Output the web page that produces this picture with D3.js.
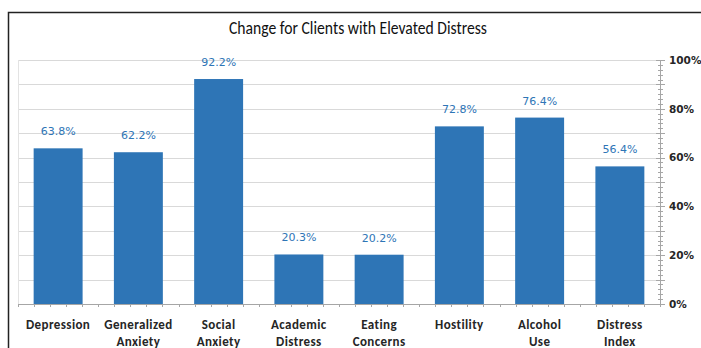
<!DOCTYPE html>
<html>
<head>
<meta charset="utf-8">
<script src="https://cdnjs.cloudflare.com/ajax/libs/d3/7.8.5/d3.min.js"></script>
<style>
  html, body { margin: 0; padding: 0; background: #fff; }
  svg { display: block; }
</style>
</head>
<body>
<svg id="chart" width="701" height="348"></svg>
<script>
// Share of clients with elevated distress who showed change, by scale
const categories = [
  ["Depression"],
  ["Generalized", "Anxiety"],
  ["Social", "Anxiety"],
  ["Academic", "Distress"],
  ["Eating", "Concerns"],
  ["Hostility"],
  ["Alcohol", "Use"],
  ["Distress", "Index"]
];
const values = [63.8, 62.2, 92.2, 20.3, 20.2, 72.8, 76.4, 56.4];
const yTicks = [0, 20, 40, 60, 80, 100];
const titleText = "Change for Clients with Elevated Distress";

const svg = d3.select("#chart");
const W = 701, H = 348;
const plot = { left: 18, right: 660, top: 60, bottom: 304 };
const barColor = "#2E75B6";
const labelColor = "#2E75B6";

// Outer chart frame
svg.append("rect")
  .attr("x", 8.5).attr("y", 12.5)
  .attr("width", W + 10).attr("height", H + 10)
  .attr("fill", "none").attr("stroke", "#222").attr("stroke-width", 1.5);

// Title
svg.append("text")
  .attr("x", 358).attr("y", 34)
  .attr("text-anchor", "middle")
  .attr("font-family", "Carlito, 'Open Sans', 'Liberation Sans', sans-serif")
  .attr("font-size", 18.5)
  .attr("fill", "#111")
  .attr("textLength", 258)
  .attr("lengthAdjust", "spacingAndGlyphs")
  .text(titleText);

const keys = categories.map(c => c.join(" "));
const x = d3.scaleBand().domain(keys).range([plot.left, plot.right]).paddingInner(0.39).paddingOuter(0.195);
const y = d3.scaleLinear().domain([0, 100]).range([plot.bottom, plot.top]);

// Horizontal gridlines every 10%
svg.append("g")
  .selectAll("line")
  .data(d3.range(10, 101, 10))
  .join("line")
  .attr("x1", plot.left).attr("x2", plot.right)
  .attr("y1", d => Math.round(y(d)) + 0.5).attr("y2", d => Math.round(y(d)) + 0.5)
  .attr("stroke", "#d9d9d9").attr("stroke-width", 1);

// Left plot edge
svg.append("line")
  .attr("x1", plot.left + 0.5).attr("x2", plot.left + 0.5)
  .attr("y1", plot.top).attr("y2", plot.bottom)
  .attr("stroke", "#e3e3e3");

// Bars
svg.append("g")
  .selectAll("rect")
  .data(values)
  .join("rect")
  .attr("x", (d, i) => x(keys[i]))
  .attr("width", x.bandwidth())
  .attr("y", d => y(d))
  .attr("height", d => y(0) - y(d))
  .attr("fill", barColor);

// Value labels above bars
svg.append("g")
  .selectAll("text")
  .data(values)
  .join("text")
  .attr("x", (d, i) => x(keys[i]) + x.bandwidth() / 2)
  .attr("y", d => y(d) - 13)
  .attr("text-anchor", "middle")
  .attr("font-family", "'DejaVu Sans', Verdana, sans-serif")
  .attr("font-size", 11)
  .attr("fill", labelColor)
  .text(d => d.toFixed(1) + "%");

// Bottom axis line with minor ticks
const bottomAxis = svg.append("g");
bottomAxis.append("line")
  .attr("x1", plot.left).attr("x2", plot.right)
  .attr("y1", plot.bottom + 0.5).attr("y2", plot.bottom + 0.5)
  .attr("stroke", "#a6a6a6");
const step = x.step();
const minorX = d3.range(0, keys.length * 5 + 1).map(i => plot.left + i * step / 5);
bottomAxis.selectAll("line.tick")
  .data(minorX)
  .join("line")
  .attr("class", "tick")
  .attr("x1", d => Math.round(d) + 0.5).attr("x2", d => Math.round(d) + 0.5)
  .attr("y1", plot.bottom).attr("y2", plot.bottom + 3)
  .attr("stroke", "#a6a6a6");

// Category labels
const catG = svg.append("g")
  .attr("font-family", "Carlito, 'Open Sans', 'Liberation Sans', sans-serif")
  .attr("font-weight", "bold")
  .attr("font-size", 13)
  .attr("letter-spacing", 0.4)
  .attr("fill", "#262626");
categories.forEach((lines, i) => {
  const t = catG.append("text")
    .attr("x", x(keys[i]) + x.bandwidth() / 2)
    .attr("y", 329)
    .attr("text-anchor", "middle");
  lines.forEach((ln, j) => {
    t.append("tspan")
      .attr("x", x(keys[i]) + x.bandwidth() / 2)
      .attr("dy", j === 0 ? 0 : 17)
      .text(ln);
  });
});

// Right value axis
const yAxis = d3.axisRight(y)
  .tickValues(yTicks)
  .tickFormat(d => d + "%")
  .tickSize(0)
  .tickPadding(9);
const yg = svg.append("g")
  .attr("transform", `translate(${plot.right},0)`)
  .call(yAxis);
yg.select(".domain").attr("stroke", "#a6a6a6");
yg.selectAll("text")
  .attr("font-family", "'DejaVu Sans', Verdana, sans-serif")
  .attr("font-weight", "bold")
  .attr("font-size", 10.5)
  .attr("fill", "#262626");

// Major (10%) and minor (2%) tick marks straddling the axis
const rg = svg.append("g").attr("stroke", "#a6a6a6");
rg.selectAll("line.minor")
  .data(d3.range(0, 101, 2))
  .join("line")
  .attr("class", "minor")
  .attr("x1", plot.right - 2).attr("x2", plot.right + 3)
  .attr("y1", d => Math.round(y(d)) + 0.5).attr("y2", d => Math.round(y(d)) + 0.5);
rg.selectAll("line.major")
  .data(d3.range(0, 101, 10))
  .join("line")
  .attr("class", "major")
  .attr("x1", plot.right - 4).attr("x2", plot.right + 5)
  .attr("y1", d => Math.round(y(d)) + 0.5).attr("y2", d => Math.round(y(d)) + 0.5);
</script>
</body>
</html>
